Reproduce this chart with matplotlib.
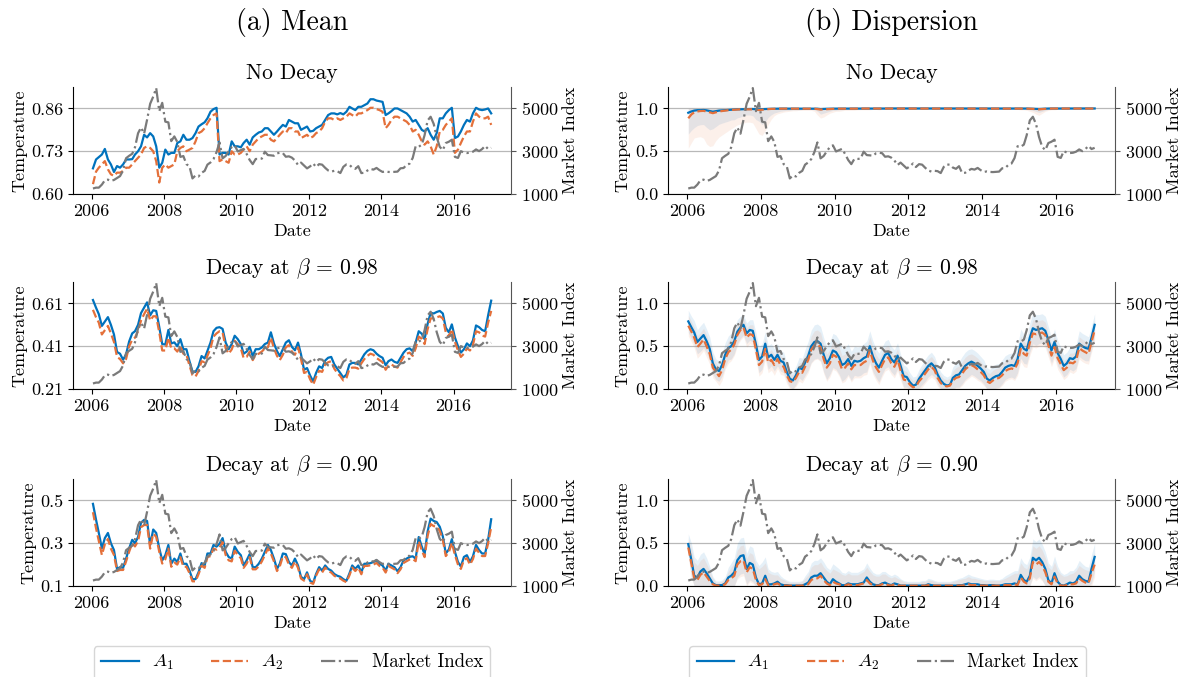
import numpy as np
import pandas as pd
import matplotlib
matplotlib.use('Agg')
import matplotlib.pyplot as plt
import matplotlib.dates as mdates

plt.rcParams['font.family'] = 'serif'
plt.rcParams['font.serif'] = ['cmr10']
plt.rcParams['mathtext.fontset'] = 'cm'
plt.rcParams['axes.formatter.use_mathtext'] = True
plt.rcParams['axes.unicode_minus'] = False

# monthly observations, Jan 2006 .. Jan 2017
dates = pd.date_range('2006-01-01', periods=133, freq='MS') + pd.Timedelta(days=14)

market_index = [
    1258, 1299, 1298, 1440, 1642, 1672, 1612, 1658, 1752, 1837, 2099, 2675,
    2786, 2881, 3183, 3841, 4109, 3820, 4471, 5218, 5552, 5954, 4871, 5262,
    4383, 4348, 3473, 3693, 3433, 2736, 2775, 2397, 2293, 1729, 1871, 1821,
    1991, 2082, 2373, 2477, 2633, 2959, 3412, 2668, 2779, 2996, 3195, 3277,
    2989, 3051, 3110, 2871, 2592, 2398, 2638, 2639, 2656, 2979, 2820, 2808,
    2790, 2905, 2928, 2911, 2743, 2762, 2701, 2568, 2359, 2469, 2333, 2199,
    2292, 2428, 2263, 2397, 2373, 2225, 2103, 2047, 2086, 2069, 1980, 2269,
    2385, 2366, 2237, 2178, 2301, 1979, 1994, 2098, 2175, 2141, 2220, 2116,
    2033, 2056, 2033, 2026, 2039, 2048, 2202, 2217, 2364, 2420, 2683, 3235,
    3210, 3310, 3748, 4442, 4612, 4277, 3664, 3206, 3053, 3383, 3445, 3539,
    2738, 2688, 3004, 2938, 2917, 2930, 2979, 3085, 3005, 3100, 3250, 3104,
    3159]

# (a) Mean
mean_nodecay_a1 = [
    0.678, 0.705, 0.712, 0.720, 0.737, 0.705, 0.690, 0.667, 0.685, 0.680, 0.690, 0.705,
    0.705, 0.706, 0.720, 0.730, 0.745, 0.780, 0.772, 0.785, 0.775, 0.745, 0.680, 0.695,
    0.735, 0.720, 0.725, 0.725, 0.755, 0.760, 0.780, 0.765, 0.765, 0.770, 0.785, 0.805,
    0.812, 0.818, 0.830, 0.850, 0.858, 0.862, 0.720, 0.725, 0.725, 0.720, 0.760, 0.745,
    0.745, 0.742, 0.755, 0.765, 0.750, 0.772, 0.780, 0.787, 0.790, 0.800, 0.800, 0.790,
    0.780, 0.790, 0.800, 0.810, 0.805, 0.825, 0.820, 0.815, 0.815, 0.795, 0.800, 0.805,
    0.790, 0.792, 0.800, 0.805, 0.810, 0.825, 0.840, 0.845, 0.845, 0.842, 0.846, 0.842,
    0.850, 0.865, 0.860, 0.855, 0.865, 0.865, 0.870, 0.875, 0.888, 0.888, 0.884, 0.882,
    0.880, 0.840, 0.845, 0.852, 0.860, 0.860, 0.855, 0.850, 0.845, 0.835, 0.820, 0.825,
    0.810, 0.795, 0.790, 0.800, 0.780, 0.765, 0.785, 0.830, 0.830, 0.845, 0.855, 0.862,
    0.770, 0.775, 0.790, 0.810, 0.825, 0.820, 0.845, 0.862, 0.857, 0.855, 0.857, 0.860,
    0.845]
mean_nodecay_a2 = [
    0.630, 0.668, 0.680, 0.690, 0.700, 0.675, 0.660, 0.655, 0.665, 0.665, 0.670, 0.680,
    0.680, 0.690, 0.700, 0.710, 0.720, 0.740, 0.745, 0.740, 0.730, 0.700, 0.635, 0.680,
    0.690, 0.680, 0.685, 0.690, 0.730, 0.740, 0.745, 0.730, 0.735, 0.740, 0.760, 0.785,
    0.790, 0.800, 0.815, 0.830, 0.840, 0.845, 0.700, 0.705, 0.700, 0.695, 0.730, 0.720,
    0.720, 0.725, 0.735, 0.745, 0.730, 0.750, 0.760, 0.770, 0.775, 0.780, 0.780, 0.765,
    0.760, 0.770, 0.780, 0.790, 0.785, 0.800, 0.800, 0.790, 0.790, 0.770, 0.775, 0.780,
    0.770, 0.775, 0.785, 0.790, 0.800, 0.820, 0.830, 0.830, 0.825, 0.830, 0.825, 0.830,
    0.835, 0.845, 0.840, 0.835, 0.845, 0.845, 0.850, 0.855, 0.862, 0.862, 0.858, 0.855,
    0.850, 0.800, 0.810, 0.825, 0.835, 0.835, 0.830, 0.825, 0.820, 0.810, 0.790, 0.795,
    0.780, 0.760, 0.750, 0.760, 0.745, 0.720, 0.745, 0.790, 0.795, 0.810, 0.820, 0.830,
    0.725, 0.735, 0.755, 0.775, 0.790, 0.790, 0.820, 0.845, 0.835, 0.830, 0.830, 0.835,
    0.810]

mean_098_a1 = [
    0.626, 0.590, 0.560, 0.505, 0.525, 0.546, 0.510, 0.465, 0.383, 0.375, 0.347, 0.372,
    0.432, 0.470, 0.480, 0.510, 0.565, 0.590, 0.615, 0.554, 0.578, 0.575, 0.500, 0.420,
    0.418, 0.486, 0.423, 0.428, 0.410, 0.443, 0.396, 0.396, 0.340, 0.292, 0.290, 0.316,
    0.364, 0.353, 0.388, 0.427, 0.480, 0.496, 0.499, 0.491, 0.427, 0.396, 0.420, 0.459,
    0.443, 0.420, 0.375, 0.385, 0.407, 0.364, 0.396, 0.396, 0.404, 0.420, 0.427, 0.475,
    0.423, 0.387, 0.364, 0.396, 0.427, 0.438, 0.407, 0.391, 0.427, 0.372, 0.300, 0.308,
    0.273, 0.245, 0.285, 0.316, 0.308, 0.343, 0.356, 0.360, 0.325, 0.305, 0.285, 0.264,
    0.277, 0.325, 0.332, 0.332, 0.325, 0.348, 0.372, 0.388, 0.396, 0.391, 0.375, 0.364,
    0.356, 0.321, 0.340, 0.348, 0.337, 0.332, 0.356, 0.380, 0.396, 0.400, 0.387, 0.427,
    0.480, 0.468, 0.443, 0.515, 0.566, 0.563, 0.570, 0.575, 0.563, 0.496, 0.475, 0.512,
    0.451, 0.410, 0.380, 0.396, 0.423, 0.410, 0.437, 0.507, 0.499, 0.486, 0.480, 0.554,
    0.623]
mean_098_a2 = [
    0.580, 0.545, 0.520, 0.465, 0.485, 0.505, 0.470, 0.430, 0.360, 0.350, 0.330, 0.350,
    0.410, 0.440, 0.450, 0.480, 0.530, 0.560, 0.585, 0.530, 0.550, 0.550, 0.475, 0.390,
    0.390, 0.450, 0.400, 0.400, 0.385, 0.410, 0.375, 0.370, 0.320, 0.275, 0.268, 0.295,
    0.340, 0.335, 0.365, 0.400, 0.455, 0.470, 0.480, 0.475, 0.400, 0.375, 0.395, 0.435,
    0.420, 0.400, 0.355, 0.360, 0.385, 0.345, 0.370, 0.375, 0.385, 0.400, 0.405, 0.450,
    0.400, 0.365, 0.345, 0.370, 0.405, 0.415, 0.385, 0.370, 0.405, 0.350, 0.285, 0.290,
    0.255, 0.230, 0.265, 0.295, 0.290, 0.325, 0.335, 0.340, 0.305, 0.285, 0.270, 0.250,
    0.260, 0.305, 0.310, 0.310, 0.305, 0.330, 0.350, 0.365, 0.375, 0.370, 0.355, 0.345,
    0.335, 0.300, 0.320, 0.325, 0.315, 0.310, 0.335, 0.360, 0.375, 0.380, 0.365, 0.400,
    0.455, 0.445, 0.420, 0.490, 0.540, 0.540, 0.545, 0.550, 0.540, 0.475, 0.455, 0.490,
    0.430, 0.390, 0.360, 0.375, 0.400, 0.390, 0.415, 0.480, 0.475, 0.460, 0.455, 0.520,
    0.575]

mean_090_a1 = [
    0.484, 0.410, 0.348, 0.276, 0.324, 0.348, 0.300, 0.268, 0.180, 0.188, 0.185, 0.228,
    0.276, 0.316, 0.300, 0.329, 0.396, 0.409, 0.404, 0.292, 0.364, 0.348, 0.276, 0.220,
    0.244, 0.292, 0.204, 0.228, 0.212, 0.252, 0.204, 0.204, 0.172, 0.132, 0.132, 0.164,
    0.207, 0.196, 0.252, 0.252, 0.292, 0.284, 0.297, 0.324, 0.260, 0.236, 0.228, 0.284,
    0.260, 0.244, 0.196, 0.220, 0.249, 0.188, 0.188, 0.204, 0.228, 0.260, 0.292, 0.268,
    0.228, 0.180, 0.204, 0.252, 0.249, 0.212, 0.196, 0.228, 0.196, 0.143, 0.132, 0.164,
    0.124, 0.116, 0.156, 0.188, 0.172, 0.196, 0.180, 0.172, 0.156, 0.148, 0.143, 0.132,
    0.124, 0.159, 0.196, 0.180, 0.196, 0.164, 0.204, 0.204, 0.207, 0.212, 0.220, 0.204,
    0.196, 0.172, 0.204, 0.196, 0.188, 0.169, 0.188, 0.220, 0.228, 0.236, 0.239, 0.228,
    0.329, 0.284, 0.249, 0.356, 0.415, 0.404, 0.399, 0.377, 0.332, 0.252, 0.271, 0.319,
    0.260, 0.212, 0.191, 0.236, 0.244, 0.212, 0.239, 0.292, 0.268, 0.252, 0.252, 0.316,
    0.412]
mean_090_a2 = [
    0.445, 0.370, 0.310, 0.245, 0.295, 0.320, 0.275, 0.245, 0.170, 0.175, 0.175, 0.215,
    0.260, 0.300, 0.285, 0.310, 0.375, 0.385, 0.385, 0.275, 0.345, 0.330, 0.260, 0.205,
    0.225, 0.275, 0.190, 0.210, 0.200, 0.235, 0.190, 0.190, 0.160, 0.122, 0.122, 0.155,
    0.195, 0.185, 0.235, 0.240, 0.275, 0.270, 0.280, 0.305, 0.245, 0.220, 0.215, 0.265,
    0.245, 0.230, 0.185, 0.205, 0.235, 0.178, 0.178, 0.192, 0.215, 0.245, 0.275, 0.252,
    0.215, 0.170, 0.192, 0.238, 0.235, 0.200, 0.185, 0.215, 0.185, 0.135, 0.125, 0.155,
    0.116, 0.110, 0.148, 0.178, 0.163, 0.186, 0.170, 0.163, 0.148, 0.140, 0.135, 0.125,
    0.118, 0.150, 0.186, 0.170, 0.186, 0.155, 0.194, 0.194, 0.197, 0.200, 0.208, 0.194,
    0.186, 0.163, 0.194, 0.186, 0.178, 0.160, 0.178, 0.208, 0.216, 0.224, 0.226, 0.216,
    0.310, 0.266, 0.235, 0.335, 0.390, 0.380, 0.378, 0.358, 0.315, 0.240, 0.258, 0.302,
    0.245, 0.200, 0.180, 0.222, 0.230, 0.200, 0.226, 0.275, 0.255, 0.240, 0.240, 0.300,
    0.375]

# (b) Dispersion
disp_nodecay_a1 = [
    0.950, 0.965, 0.975, 0.980, 0.980, 0.982, 0.978, 0.970, 0.962, 0.968, 0.975, 0.978,
    0.980, 0.982, 0.985, 0.988, 0.990, 0.990, 0.992, 0.993, 0.993, 0.994, 0.990, 0.990,
    0.992, 0.994, 0.995, 0.996, 0.997, 0.997, 0.998, 0.998, 0.998, 0.998, 0.998, 0.998,
    0.998, 0.998, 0.999, 0.999, 0.999, 0.999, 0.997, 0.993, 0.995, 0.996, 0.997, 0.998,
    0.998, 0.998, 0.998, 0.999, 0.999, 0.999, 0.999, 0.999, 0.999, 0.999, 0.999, 0.999,
    0.999, 0.999, 0.999, 0.999, 0.999, 1.000, 1.000, 1.000, 0.999, 0.999, 0.999, 0.999,
    0.999, 0.999, 1.000, 1.000, 1.000, 1.000, 1.000, 1.000, 0.999, 0.999, 0.999, 0.999,
    0.999, 0.999, 1.000, 1.000, 1.000, 1.000, 1.000, 1.000, 1.000, 0.999, 0.999, 0.999,
    0.999, 0.999, 0.999, 0.999, 1.000, 1.000, 1.000, 1.000, 0.999, 0.999, 0.999, 0.999,
    0.999, 0.999, 0.999, 0.998, 0.997, 0.995, 0.994, 0.996, 0.998, 0.999, 0.999, 0.999,
    0.999, 0.999, 0.999, 0.999, 0.999, 1.000, 1.000, 1.000, 1.000, 1.000, 1.000, 1.000,
    1.000]
disp_nodecay_a2 = [
    0.885, 0.930, 0.955, 0.965, 0.970, 0.972, 0.965, 0.955, 0.945, 0.955, 0.965, 0.970,
    0.975, 0.980, 0.982, 0.985, 0.988, 0.990, 0.990, 0.990, 0.990, 0.990, 0.985, 0.982,
    0.985, 0.990, 0.993, 0.995, 0.996, 0.997, 0.997, 0.998, 0.998, 0.998, 0.998, 0.998,
    0.998, 0.998, 0.998, 0.998, 0.998, 0.997, 0.993, 0.988, 0.990, 0.993, 0.995, 0.996,
    0.997, 0.997, 0.998, 0.998, 0.998, 0.998, 0.998, 0.998, 0.999, 0.999, 0.999, 0.999,
    0.999, 0.999, 0.999, 0.999, 0.999, 0.999, 0.999, 0.999, 0.999, 0.999, 0.999, 0.999,
    0.999, 0.999, 0.999, 0.999, 1.000, 1.000, 1.000, 1.000, 0.999, 0.999, 0.999, 0.999,
    0.999, 0.999, 0.999, 1.000, 1.000, 1.000, 1.000, 1.000, 0.999, 0.999, 0.999, 0.999,
    0.999, 0.999, 0.999, 0.999, 0.999, 1.000, 1.000, 0.999, 0.999, 0.999, 0.999, 0.999,
    0.999, 0.999, 0.998, 0.997, 0.995, 0.992, 0.990, 0.993, 0.996, 0.998, 0.999, 0.999,
    0.999, 0.999, 0.999, 0.999, 0.999, 0.999, 1.000, 1.000, 1.000, 1.000, 0.999, 0.999,
    0.999]
spread_nodecay_a1 = [
    0.25, 0.22, 0.20, 0.18, 0.17, 0.17, 0.20, 0.22, 0.20, 0.18, 0.16, 0.15,
    0.14, 0.13, 0.12, 0.12, 0.10, 0.09, 0.08, 0.07, 0.07, 0.08, 0.12, 0.14,
    0.18, 0.15, 0.10, 0.07, 0.05, 0.04, 0.03, 0.025, 0.02, 0.02, 0.015, 0.015,
    0.015, 0.01, 0.01, 0.01, 0.01, 0.015, 0.03, 0.06, 0.05, 0.04, 0.03, 0.02,
    0.02, 0.015, 0.015, 0.01, 0.01, 0.01, 0.01, 0.01, 0.01, 0.01, 0.01, 0.01,
    0.01, 0.01, 0.01, 0.01, 0.01, 0.01, 0.01, 0.01, 0.01, 0.01, 0.01, 0.01,
    0.01, 0.01, 0.01, 0.01, 0.01, 0.01, 0.01, 0.01, 0.01, 0.01, 0.01, 0.01,
    0.01, 0.01, 0.01, 0.01, 0.01, 0.01, 0.01, 0.01, 0.01, 0.01, 0.01, 0.01,
    0.01, 0.01, 0.01, 0.01, 0.01, 0.01, 0.01, 0.01, 0.01, 0.01, 0.01, 0.01,
    0.01, 0.01, 0.01, 0.015, 0.02, 0.03, 0.04, 0.03, 0.02, 0.01, 0.01, 0.01,
    0.01, 0.01, 0.01, 0.01, 0.01, 0.01, 0.01, 0.01, 0.01, 0.01, 0.01, 0.01,
    0.01]
spread_nodecay_a2 = [
    0.35, 0.33, 0.30, 0.30, 0.30, 0.32, 0.38, 0.40, 0.38, 0.33, 0.30, 0.28,
    0.26, 0.24, 0.22, 0.20, 0.18, 0.17, 0.16, 0.15, 0.15, 0.16, 0.22, 0.28,
    0.30, 0.25, 0.18, 0.12, 0.08, 0.06, 0.05, 0.04, 0.035, 0.03, 0.025, 0.025,
    0.02, 0.02, 0.02, 0.02, 0.02, 0.03, 0.07, 0.10, 0.09, 0.07, 0.05, 0.04,
    0.03, 0.03, 0.025, 0.02, 0.02, 0.02, 0.02, 0.015, 0.015, 0.015, 0.015, 0.015,
    0.01, 0.01, 0.015, 0.01, 0.01, 0.01, 0.01, 0.01, 0.015, 0.01, 0.01, 0.01,
    0.01, 0.01, 0.01, 0.01, 0.01, 0.01, 0.01, 0.01, 0.01, 0.01, 0.01, 0.01,
    0.01, 0.01, 0.01, 0.01, 0.01, 0.01, 0.01, 0.01, 0.01, 0.01, 0.01, 0.01,
    0.01, 0.01, 0.01, 0.01, 0.01, 0.01, 0.01, 0.01, 0.01, 0.01, 0.01, 0.01,
    0.015, 0.015, 0.02, 0.03, 0.04, 0.06, 0.07, 0.05, 0.03, 0.02, 0.015, 0.015,
    0.01, 0.01, 0.01, 0.01, 0.01, 0.01, 0.01, 0.01, 0.01, 0.01, 0.01, 0.01,
    0.01]

disp_098_a1 = [
    0.79, 0.72, 0.66, 0.55, 0.59, 0.63, 0.56, 0.47, 0.30, 0.23, 0.21, 0.28,
    0.40, 0.48, 0.50, 0.56, 0.67, 0.72, 0.75, 0.65, 0.69, 0.68, 0.52, 0.34,
    0.38, 0.53, 0.37, 0.40, 0.34, 0.40, 0.33, 0.31, 0.20, 0.12, 0.10, 0.16,
    0.25, 0.23, 0.31, 0.39, 0.50, 0.55, 0.56, 0.53, 0.40, 0.30, 0.36, 0.45,
    0.43, 0.37, 0.28, 0.30, 0.35, 0.27, 0.33, 0.32, 0.33, 0.36, 0.38, 0.50,
    0.38, 0.30, 0.25, 0.33, 0.40, 0.42, 0.35, 0.31, 0.39, 0.27, 0.15, 0.14,
    0.08, 0.04, 0.05, 0.12, 0.17, 0.22, 0.27, 0.30, 0.26, 0.17, 0.10, 0.06,
    0.04, 0.05, 0.13, 0.16, 0.17, 0.22, 0.27, 0.30, 0.32, 0.30, 0.27, 0.24,
    0.20, 0.12, 0.10, 0.13, 0.15, 0.16, 0.20, 0.25, 0.27, 0.28, 0.27, 0.35,
    0.53, 0.47, 0.45, 0.60, 0.71, 0.69, 0.70, 0.71, 0.68, 0.57, 0.45, 0.55,
    0.42, 0.35, 0.27, 0.30, 0.36, 0.35, 0.38, 0.53, 0.50, 0.48, 0.47, 0.60,
    0.75]
disp_098_a2 = [
    0.74, 0.67, 0.60, 0.49, 0.53, 0.58, 0.50, 0.41, 0.25, 0.20, 0.15, 0.22,
    0.35, 0.43, 0.46, 0.52, 0.63, 0.69, 0.72, 0.60, 0.64, 0.63, 0.46, 0.28,
    0.32, 0.47, 0.31, 0.34, 0.28, 0.35, 0.28, 0.26, 0.16, 0.09, 0.08, 0.13,
    0.20, 0.19, 0.26, 0.34, 0.46, 0.51, 0.52, 0.49, 0.35, 0.25, 0.30, 0.40,
    0.38, 0.32, 0.23, 0.25, 0.30, 0.23, 0.28, 0.28, 0.28, 0.31, 0.33, 0.45,
    0.33, 0.25, 0.20, 0.28, 0.35, 0.37, 0.30, 0.26, 0.34, 0.22, 0.11, 0.10,
    0.05, 0.02, 0.03, 0.09, 0.13, 0.18, 0.23, 0.26, 0.22, 0.13, 0.07, 0.04,
    0.03, 0.04, 0.10, 0.13, 0.14, 0.18, 0.23, 0.26, 0.28, 0.26, 0.23, 0.20,
    0.16, 0.09, 0.07, 0.10, 0.12, 0.13, 0.16, 0.21, 0.23, 0.24, 0.23, 0.30,
    0.47, 0.41, 0.39, 0.54, 0.65, 0.64, 0.65, 0.66, 0.63, 0.51, 0.39, 0.49,
    0.36, 0.29, 0.22, 0.25, 0.31, 0.30, 0.33, 0.48, 0.45, 0.43, 0.41, 0.55,
    0.69]
spread_098_a1 = [
    0.13, 0.13, 0.14, 0.14, 0.15, 0.15, 0.14, 0.14, 0.13, 0.12, 0.12, 0.13,
    0.14, 0.14, 0.15, 0.15, 0.14, 0.13, 0.12, 0.12, 0.12, 0.13, 0.14, 0.15,
    0.15, 0.14, 0.14, 0.13, 0.13, 0.13, 0.12, 0.12, 0.11, 0.10, 0.10, 0.11,
    0.12, 0.13, 0.15, 0.17, 0.19, 0.20, 0.20, 0.20, 0.20, 0.19, 0.19, 0.20,
    0.20, 0.20, 0.19, 0.18, 0.18, 0.17, 0.17, 0.17, 0.17, 0.17, 0.18, 0.18,
    0.18, 0.17, 0.17, 0.16, 0.16, 0.16, 0.15, 0.15, 0.15, 0.14, 0.13, 0.12,
    0.11, 0.10, 0.10, 0.11, 0.12, 0.13, 0.13, 0.13, 0.12, 0.11, 0.10, 0.10,
    0.10, 0.11, 0.13, 0.14, 0.15, 0.16, 0.16, 0.16, 0.15, 0.15, 0.15, 0.14,
    0.14, 0.13, 0.13, 0.14, 0.14, 0.14, 0.14, 0.14, 0.14, 0.14, 0.15, 0.16,
    0.17, 0.17, 0.16, 0.17, 0.18, 0.18, 0.17, 0.17, 0.17, 0.16, 0.15, 0.15,
    0.15, 0.14, 0.13, 0.13, 0.13, 0.14, 0.14, 0.15, 0.15, 0.15, 0.14, 0.14,
    0.13]
spread_098_a2 = [
    0.12, 0.12, 0.12, 0.13, 0.13, 0.13, 0.13, 0.12, 0.12, 0.11, 0.11, 0.12,
    0.12, 0.13, 0.13, 0.13, 0.13, 0.12, 0.11, 0.11, 0.11, 0.12, 0.12, 0.13,
    0.13, 0.13, 0.12, 0.12, 0.12, 0.11, 0.11, 0.10, 0.10, 0.09, 0.09, 0.10,
    0.11, 0.12, 0.13, 0.15, 0.16, 0.17, 0.17, 0.17, 0.17, 0.16, 0.16, 0.17,
    0.17, 0.17, 0.16, 0.16, 0.15, 0.15, 0.15, 0.15, 0.15, 0.15, 0.16, 0.16,
    0.16, 0.15, 0.15, 0.14, 0.14, 0.14, 0.13, 0.13, 0.13, 0.12, 0.11, 0.10,
    0.09, 0.08, 0.09, 0.10, 0.11, 0.11, 0.12, 0.12, 0.11, 0.10, 0.09, 0.08,
    0.08, 0.09, 0.11, 0.12, 0.13, 0.14, 0.14, 0.14, 0.13, 0.13, 0.13, 0.12,
    0.12, 0.11, 0.11, 0.12, 0.12, 0.12, 0.12, 0.12, 0.12, 0.12, 0.13, 0.14,
    0.15, 0.15, 0.14, 0.15, 0.16, 0.16, 0.15, 0.15, 0.15, 0.14, 0.13, 0.13,
    0.13, 0.12, 0.11, 0.11, 0.11, 0.12, 0.12, 0.13, 0.13, 0.13, 0.12, 0.12,
    0.12]

disp_090_a1 = [
    0.49, 0.30, 0.12, 0.10, 0.17, 0.20, 0.15, 0.09, 0.03, 0.01, 0.01, 0.01,
    0.03, 0.10, 0.12, 0.16, 0.30, 0.35, 0.36, 0.20, 0.27, 0.25, 0.10, 0.02,
    0.03, 0.12, 0.02, 0.02, 0.03, 0.05, 0.02, 0.01, 0.01, 0.005, 0.005, 0.005,
    0.005, 0.005, 0.02, 0.04, 0.10, 0.12, 0.12, 0.15, 0.10, 0.05, 0.02, 0.08,
    0.05, 0.03, 0.01, 0.01, 0.03, 0.02, 0.02, 0.02, 0.03, 0.04, 0.10, 0.05,
    0.02, 0.01, 0.01, 0.03, 0.04, 0.02, 0.01, 0.03, 0.02, 0.005, 0.005, 0.005,
    0.005, 0.005, 0.005, 0.005, 0.005, 0.005, 0.02, 0.01, 0.005, 0.005, 0.005, 0.005,
    0.005, 0.005, 0.005, 0.005, 0.01, 0.01, 0.02, 0.03, 0.02, 0.02, 0.02, 0.01,
    0.01, 0.005, 0.01, 0.01, 0.005, 0.005, 0.01, 0.02, 0.02, 0.02, 0.03, 0.02,
    0.13, 0.07, 0.05, 0.12, 0.33, 0.30, 0.33, 0.28, 0.20, 0.07, 0.03, 0.15,
    0.05, 0.01, 0.005, 0.02, 0.04, 0.03, 0.05, 0.12, 0.08, 0.06, 0.05, 0.20,
    0.34]
disp_090_a2 = [
    0.45, 0.26, 0.09, 0.07, 0.13, 0.16, 0.11, 0.06, 0.02, 0.005, 0.005, 0.005,
    0.02, 0.07, 0.09, 0.12, 0.25, 0.29, 0.30, 0.16, 0.22, 0.20, 0.07, 0.01,
    0.02, 0.08, 0.01, 0.01, 0.02, 0.03, 0.01, 0.005, 0.005, 0.003, 0.003, 0.003,
    0.003, 0.005, 0.01, 0.02, 0.07, 0.09, 0.09, 0.12, 0.07, 0.03, 0.01, 0.05,
    0.03, 0.02, 0.005, 0.005, 0.02, 0.01, 0.01, 0.01, 0.02, 0.03, 0.07, 0.03,
    0.01, 0.005, 0.005, 0.02, 0.03, 0.01, 0.005, 0.02, 0.01, 0.003, 0.003, 0.003,
    0.003, 0.003, 0.003, 0.003, 0.003, 0.003, 0.01, 0.005, 0.003, 0.003, 0.003, 0.003,
    0.003, 0.003, 0.003, 0.003, 0.005, 0.005, 0.01, 0.02, 0.01, 0.01, 0.01, 0.005,
    0.005, 0.003, 0.005, 0.005, 0.003, 0.003, 0.005, 0.01, 0.01, 0.01, 0.02, 0.01,
    0.10, 0.05, 0.03, 0.09, 0.28, 0.25, 0.28, 0.24, 0.16, 0.05, 0.02, 0.11,
    0.03, 0.005, 0.003, 0.01, 0.02, 0.02, 0.03, 0.09, 0.06, 0.04, 0.03, 0.15,
    0.25]
spread_090_a1 = [
    0.12, 0.20, 0.22, 0.20, 0.20, 0.20, 0.18, 0.14, 0.08, 0.05, 0.05, 0.06,
    0.08, 0.12, 0.15, 0.17, 0.20, 0.21, 0.21, 0.18, 0.20, 0.20, 0.20, 0.22,
    0.25, 0.22, 0.18, 0.15, 0.13, 0.12, 0.10, 0.08, 0.06, 0.05, 0.05, 0.05,
    0.05, 0.06, 0.10, 0.13, 0.17, 0.18, 0.18, 0.18, 0.18, 0.17, 0.17, 0.18,
    0.18, 0.17, 0.15, 0.14, 0.15, 0.14, 0.14, 0.14, 0.15, 0.16, 0.17, 0.16,
    0.14, 0.13, 0.13, 0.14, 0.13, 0.12, 0.11, 0.11, 0.10, 0.08, 0.06, 0.05,
    0.05, 0.05, 0.05, 0.05, 0.06, 0.06, 0.07, 0.07, 0.06, 0.05, 0.05, 0.05,
    0.05, 0.05, 0.06, 0.07, 0.08, 0.09, 0.10, 0.11, 0.10, 0.09, 0.08, 0.08,
    0.07, 0.07, 0.07, 0.07, 0.07, 0.07, 0.08, 0.10, 0.12, 0.14, 0.15, 0.16,
    0.20, 0.20, 0.20, 0.22, 0.22, 0.22, 0.22, 0.21, 0.20, 0.20, 0.20, 0.20,
    0.18, 0.15, 0.13, 0.13, 0.14, 0.15, 0.17, 0.18, 0.18, 0.17, 0.17, 0.17,
    0.16]
spread_090_a2 = [
    0.11, 0.17, 0.19, 0.17, 0.17, 0.17, 0.15, 0.12, 0.07, 0.04, 0.04, 0.05,
    0.07, 0.10, 0.13, 0.15, 0.17, 0.18, 0.18, 0.16, 0.17, 0.17, 0.17, 0.19,
    0.21, 0.19, 0.15, 0.13, 0.11, 0.10, 0.08, 0.07, 0.05, 0.04, 0.04, 0.04,
    0.04, 0.05, 0.08, 0.11, 0.15, 0.16, 0.16, 0.16, 0.15, 0.15, 0.14, 0.15,
    0.15, 0.14, 0.13, 0.12, 0.13, 0.12, 0.12, 0.12, 0.13, 0.14, 0.15, 0.14,
    0.12, 0.11, 0.11, 0.12, 0.11, 0.10, 0.09, 0.09, 0.08, 0.07, 0.05, 0.04,
    0.04, 0.04, 0.04, 0.04, 0.05, 0.05, 0.06, 0.06, 0.05, 0.04, 0.04, 0.04,
    0.04, 0.04, 0.05, 0.06, 0.07, 0.08, 0.08, 0.09, 0.08, 0.08, 0.07, 0.07,
    0.06, 0.06, 0.06, 0.06, 0.06, 0.06, 0.07, 0.08, 0.10, 0.12, 0.13, 0.14,
    0.17, 0.17, 0.17, 0.19, 0.19, 0.19, 0.19, 0.18, 0.17, 0.17, 0.17, 0.17,
    0.15, 0.13, 0.11, 0.11, 0.12, 0.13, 0.15, 0.15, 0.15, 0.15, 0.15, 0.15,
    0.14]

BLUE = '#0072bd'
ORANGE = '#e4703a'
GREY = '#7a7a7a'

fig = plt.figure(figsize=(11.82, 6.77), dpi=100)

col_x = [0.0618, 0.5651]
col_w = [0.3706, 0.3782]
row_y = [0.7134, 0.4254, 0.1344]
row_h = 0.158


def draw_panel(col, row, title, a1, a2, ylim, yticks, yticklabels, sd1=None, sd2=None):
    ax = fig.add_axes([col_x[col], row_y[row], col_w[col], row_h])
    ax2 = ax.twinx()
    if sd1 is not None:
        m1, s1 = np.array(a1), np.array(sd1)
        m2, s2 = np.array(a2), np.array(sd2)
        ax.fill_between(dates, np.clip(m1 - s1, 0, 1), np.clip(m1 + s1, 0, 1),
                        color=BLUE, alpha=0.1, lw=0)
        ax.fill_between(dates, np.clip(m2 - s2, 0, 1), np.clip(m2 + s2, 0, 1),
                        color=ORANGE, alpha=0.1, lw=0)
    l1, = ax.plot(dates, a1, color=BLUE, lw=1.6, label='$A_1$')
    l2, = ax.plot(dates, a2, color=ORANGE, lw=1.6, ls='--', label='$A_2$')
    l3, = ax2.plot(dates, market_index, color=GREY, lw=1.6, ls='-.', label='Market Index')

    ax.set_ylim(*ylim)
    ax.set_yticks(yticks)
    ax.set_yticklabels(yticklabels)
    ax.grid(axis='y', color='#b8b8b8', lw=0.9)
    ax.set_axisbelow(True)
    ax2.set_ylim(1000, 6000)
    ax2.set_yticks([1000, 3000, 5000])

    ax.xaxis.set_major_locator(mdates.YearLocator(2))
    ax.xaxis.set_major_formatter(mdates.DateFormatter('%Y'))

    for a in (ax, ax2):
        a.spines['top'].set_visible(False)
        a.tick_params(labelsize=13)
    ax.spines['right'].set_visible(False)
    ax2.spines['left'].set_visible(False)
    ax2.spines['bottom'].set_visible(False)
    ax2.spines['right'].set_color('#555555')
    ax2.tick_params(axis='y', color='#555555')

    ax.set_title(title, fontsize=15.5, pad=6)
    ax.set_xlabel('Date', fontsize=13, labelpad=3)
    ax.set_ylabel('Temperature', fontsize=13, labelpad=3)
    ax2.set_ylabel('Market Index', fontsize=13, labelpad=3)
    return [l1, l2, l3]


titles = ['No Decay', r'Decay at $\beta$ = 0.98', r'Decay at $\beta$ = 0.90']

handles = draw_panel(0, 0, titles[0], mean_nodecay_a1, mean_nodecay_a2,
                     (0.60, 0.925), [0.60, 0.73, 0.86], ['0.60', '0.73', '0.86'])
draw_panel(0, 1, titles[1], mean_098_a1, mean_098_a2,
           (0.21, 0.71), [0.21, 0.41, 0.61], ['0.21', '0.41', '0.61'])
draw_panel(0, 2, titles[2], mean_090_a1, mean_090_a2,
           (0.1, 0.6), [0.1, 0.3, 0.5], ['0.1', '0.3', '0.5'])

disp_ticks = [0.0, 0.5, 1.0]
disp_labels = ['0.0', '0.5', '1.0']
draw_panel(1, 0, titles[0], disp_nodecay_a1, disp_nodecay_a2, (0, 1.25), disp_ticks, disp_labels,
           spread_nodecay_a1, spread_nodecay_a2)
draw_panel(1, 1, titles[1], disp_098_a1, disp_098_a2, (0, 1.25), disp_ticks, disp_labels,
           spread_098_a1, spread_098_a2)
draw_panel(1, 2, titles[2], disp_090_a1, disp_090_a2, (0, 1.25), disp_ticks, disp_labels,
           spread_090_a1, spread_090_a2)

fig.text(0.247, 0.967, '(a) Mean', ha='center', va='center', fontsize=20)
fig.text(0.754, 0.967, '(b) Dispersion', ha='center', va='center', fontsize=20)

labels = [h.get_label() for h in handles]
for cx in (0.247, 0.751):
    fig.legend(handles, labels, loc='upper center', bbox_to_anchor=(cx, 0.06), ncol=3,
               fontsize=13.5, handlelength=2.0, handletextpad=0.7, columnspacing=2.0,
               frameon=True, fancybox=True, edgecolor='#cccccc', borderpad=0.4)

fig.savefig('out.png', dpi=100)
